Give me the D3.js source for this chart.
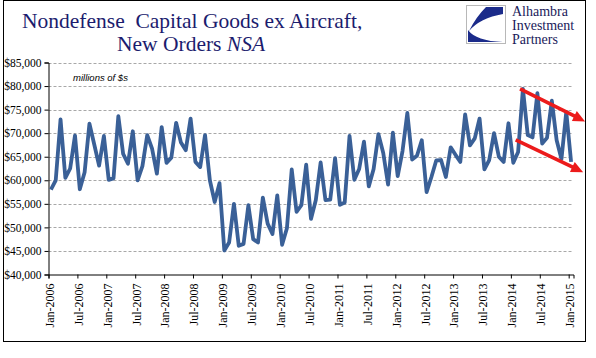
<!DOCTYPE html>
<html><head><meta charset="utf-8">
<script src="https://cdn.jsdelivr.net/npm/d3@7"></script>
<style>html,body{margin:0;padding:0;background:#fff;overflow:hidden}</style>
</head><body>
<svg id="chart" width="596" height="358"></svg>
<script>
// Monthly new orders, millions of $, Jan-2006 .. Jan-2015
const firstMonth = "Jan-2006";
const orders = [
  58000, 60000, 72900, 60500, 62500, 69500, 58100, 61700, 72000, 67600, 63100, 69400,
  60100, 60400, 73600, 65600, 63500, 70400, 60000, 63000, 69600, 66700, 61400, 71300,
  63700, 64800, 72200, 68000, 66400, 73100, 63900, 62800, 69600, 60000, 55400, 59400,
  45100, 46800, 55000, 46100, 46500, 54700, 47500, 46800, 56300, 50800, 48600, 56800,
  46300, 49800, 62300, 53300, 54700, 63300, 51800, 55800, 63800, 55800, 55900, 64700,
  54800, 55300, 69400, 60100, 62400, 68200, 58700, 62400, 69800, 65800, 59100, 70100,
  60900, 66200, 74300, 64400, 65200, 68500, 57500, 60700, 64200, 64300, 60700, 67000,
  65400, 63900, 74000, 67400, 68900, 73100, 62300, 64300, 70000, 65000, 63900, 72100,
  63700, 66000, 79400, 69600, 69100, 78500, 67800, 69000, 76900, 68500, 64500, 74500,
  63900
];
const tickLabels = ["Jan-2006","Jul-2006","Jan-2007","Jul-2007","Jan-2008","Jul-2008",
  "Jan-2009","Jul-2009","Jan-2010","Jul-2010","Jan-2011","Jul-2011","Jan-2012","Jul-2012",
  "Jan-2013","Jul-2013","Jan-2014","Jul-2014","Jan-2015"];
const tickMonths = [0,6,12,18,24,30,36,42,48,54,60,66,72,78,84,90,96,102,108];
const yTicks = [40000,45000,50000,55000,60000,65000,70000,75000,80000,85000];
// trend arrows: start/end in (month index, value)
const arrowStartMonth = [97.9, 97.0];
const arrowStartValue = [79400, 68600];
const arrowEndMonth = [111.4, 111.0];
const arrowEndValue = [72500, 61700];
const titleLine1 = "Nondefense  Capital Goods ex Aircraft,";
const titleLine2a = "New Orders ";
const titleLine2b = "NSA";
const unitsLabel = "millions of $s";
const logoLines = ["Alhambra","Investment","Partners"];

const svg = d3.select("#chart");
const x = d3.scaleLinear().domain([0, orders.length]).range([48.5, 573.5]);
const y = d3.scaleLinear().domain([40000, 85000]).range([274.5, 62.5]);

// outer frame
svg.append("rect").attr("x",3.5).attr("y",0.5).attr("width",582).attr("height",341)
  .attr("fill","none").attr("stroke","#000").attr("stroke-width",1);

// title
const navy = "#1c1c6e";
svg.append("text").attr("x",22).attr("y",28)
  .attr("font-family","'Liberation Serif', 'Times New Roman', serif").attr("font-size",21.5)
  .attr("fill",navy).style("white-space","pre").text(titleLine1);
const t2 = svg.append("text").attr("x",117).attr("y",51)
  .attr("font-family","'Liberation Serif', 'Times New Roman', serif").attr("font-size",21.5)
  .attr("fill",navy).style("white-space","pre");
t2.append("tspan").text(titleLine2a);
t2.append("tspan").attr("font-style","italic").text(titleLine2b);

// logo
const lg = svg.append("g").attr("transform","translate(466,5)");
lg.append("rect").attr("x",0.5).attr("y",0.5).attr("width",39).attr("height",38)
  .attr("fill","#fff").attr("stroke","#b8b8b8");
lg.append("path").attr("d","M37,2 L20,2 Q10,12 3,26 Q14,13 37,9 Z").attr("fill","#1b2b8a");
lg.append("path").attr("d","M2,25 Q10,36 37,37 L2,37 Z").attr("fill","#1b2b8a");
lg.selectAll("text.logo").data(logoLines).join("text").attr("class","logo")
  .attr("x",46).attr("y",(d,i)=>11+i*14)
  .attr("font-family","'Liberation Serif', 'Times New Roman', serif").attr("font-size",14)
  .attr("fill","#1a1a5a").text(d=>d);

// gridlines
svg.append("g").selectAll("line").data(yTicks.filter(d=>d>40000)).join("line")
  .attr("x1",x(0)).attr("x2",x(orders.length))
  .attr("y1",d=>Math.round(y(d))+0.5).attr("y2",d=>Math.round(y(d))+0.5)
  .attr("stroke","#a8a8a8").attr("stroke-width",1).attr("stroke-dasharray","3,2");

// y axis
const yAxis = svg.append("g").attr("transform",`translate(${x(0)},0)`)
  .call(d3.axisLeft(y).tickValues(yTicks).tickSize(4).tickPadding(3)
    .tickFormat(d=>"$"+d3.format(",")(d)));
yAxis.select(".domain").attr("stroke","#000");
yAxis.selectAll("text").attr("font-family","'Liberation Serif', 'Times New Roman', serif")
  .attr("font-size",11.5).attr("fill","#000");

// x axis
const xAxis = svg.append("g").attr("transform",`translate(0,${y(40000)})`)
  .call(d3.axisBottom(x).tickValues(tickMonths).tickSize(4)
    .tickFormat((d,i)=>tickLabels[i]));
xAxis.select(".domain").attr("stroke","#000");
xAxis.selectAll("text").attr("font-family","'Liberation Serif', 'Times New Roman', serif")
  .attr("font-size",12).attr("fill","#000")
  .attr("transform","rotate(-90)").attr("text-anchor","end")
  .attr("x",-9).attr("y",0).attr("dy","0.4em");

// units label
svg.append("text").attr("x",73).attr("y",81)
  .attr("font-family","'Liberation Sans', Arial, sans-serif").attr("font-style","italic")
  .attr("font-size",9.5).attr("fill","#000").text(unitsLabel);

// series line
const line = d3.line().x((d,i)=>x(i+0.5)).y(d=>y(d));
svg.append("path").datum(orders).attr("d",line).attr("fill","none")
  .attr("stroke","#3a6097").attr("stroke-width",3.8).attr("stroke-linejoin","round");

// arrows
const red = "#ec1b1b";
arrowStartMonth.forEach((m,k)=>{
  const x0 = x(m), y0 = y(arrowStartValue[k]);
  const x1 = x(arrowEndMonth[k]), y1 = y(arrowEndValue[k]);
  const dx = x1-x0, dy = y1-y0, L = Math.hypot(dx,dy), ux = dx/L, uy = dy/L;
  const head = 12, hw = 5.5;
  const bx = x1-ux*head, by = y1-uy*head;
  svg.append("line").attr("x1",x0).attr("y1",y0).attr("x2",bx+ux*1).attr("y2",by+uy*1)
    .attr("stroke",red).attr("stroke-width",3.6);
  svg.append("path").attr("d",`M${x1},${y1} L${bx-uy*hw},${by+ux*hw} L${bx+uy*hw},${by-ux*hw} Z`)
    .attr("fill",red);
});
</script>
</body></html>
